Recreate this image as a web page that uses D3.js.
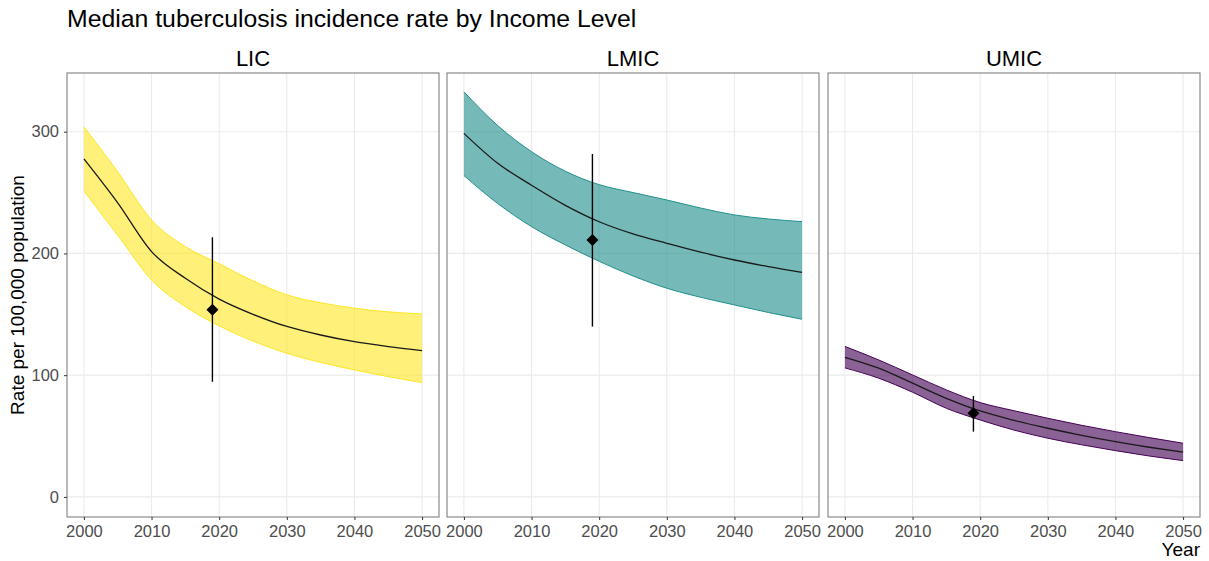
<!DOCTYPE html>
<html>
<head>
<meta charset="utf-8">
<script src="https://cdn.jsdelivr.net/npm/d3@7"></script>
<style>
  body { margin: 0; background: white; }
  text { font-family: "Liberation Sans", Arial, sans-serif; }
</style>
</head>
<body>
<div id="chart"></div>
<script>
// data
const years = [2000, 2005, 2010, 2015, 2020, 2025, 2030, 2035, 2040, 2045, 2050]
const groups = ["LIC", "LMIC", "UMIC"]
const colors = ["#FDE725", "#21908C", "#440154"]

const licMedian = [277.6, 241.5, 201.5, 179.6, 162.5, 150, 140, 133, 127.5, 123.5, 120.2]
const licUpper  = [304, 267, 227.5, 205.6, 191.5, 177.5, 166, 159.5, 155, 152, 150.3]
const licLower  = [251.3, 215, 178.2, 156.3, 140.5, 128, 118, 110.5, 104.3, 98.8, 93.9]

const lmicMedian = [298.6, 274, 256, 239.5, 226, 216, 208.3, 201, 194.6, 189.2, 184.5]
const lmicUpper  = [332.8, 305, 283.6, 267.5, 256.5, 250, 243.9, 237.3, 231.6, 228.3, 226.1]
const lmicLower  = [264, 241, 222, 207, 193.5, 181.5, 171.4, 164, 157.7, 151.5, 145.9]

const umicMedian = [114.7, 105.7, 93.4, 81, 70.6, 62.9, 56.4, 50.6, 45.4, 40.8, 36.7]
const umicUpper  = [123.6, 112.5, 100.2, 87.9, 77.5, 70.8, 64.6, 58.8, 53.6, 48.7, 44.1]
const umicLower  = [106, 97.5, 86, 72.8, 63.2, 54.9, 48.2, 42.8, 38, 33.6, 29.8]

// observed point (2019) with range
const obsYear = 2019
const obsValue = [153.8, 211, 68.7]
const obsLow = [94.6, 139.9, 53.6]
const obsHigh = [213.3, 281.7, 82.9]

const xTicks = [2000, 2010, 2020, 2030, 2040, 2050]
const yTicks = [0, 100, 200, 300]

const series = [
  { median: licMedian, upper: licUpper, lower: licLower },
  { median: lmicMedian, upper: lmicUpper, lower: lmicLower },
  { median: umicMedian, upper: umicUpper, lower: umicLower }
]

const W = 1209, H = 561
const panelLeft = [67, 447, 828]
const panelW = 372
const panelTop = 73, panelH = 444

const svg = d3.select("#chart").append("svg")
  .attr("width", W).attr("height", H)

const x = d3.scaleLinear().domain([1997.5, 2052.5]).range([0, panelW])
const y = d3.scaleLinear().domain([-16.5, 348.2]).range([panelH, 0])

// title
svg.append("text")
  .attr("x", 67).attr("y", 27)
  .style("font-size", "24.8px")
  .text("Median tuberculosis incidence rate by Income Level")

// axis titles
svg.append("text")
  .attr("transform", `translate(24, ${panelTop + panelH / 2}) rotate(-90)`)
  .attr("text-anchor", "middle")
  .style("font-size", "19px")
  .text("Rate per 100,000 population")

svg.append("text")
  .attr("x", 1200).attr("y", 556)
  .attr("text-anchor", "end")
  .style("font-size", "19px")
  .text("Year")

const area = d3.area()
  .x((d, i) => x(years[i]))
  .y0(d => y(d[0]))
  .y1(d => y(d[1]))
  .curve(d3.curveMonotoneX)

const line = d3.line()
  .x((d, i) => x(years[i]))
  .y(d => y(d))
  .curve(d3.curveMonotoneX)

groups.forEach((g, k) => {
  const p = svg.append("g").attr("transform", `translate(${panelLeft[k]}, ${panelTop})`)

  // grid
  p.selectAll(".gx").data(xTicks).enter().append("line")
    .attr("x1", d => x(d)).attr("x2", d => x(d))
    .attr("y1", 0).attr("y2", panelH)
    .attr("stroke", "#ebebeb").attr("stroke-width", 1.1)
  p.selectAll(".gy").data(yTicks).enter().append("line")
    .attr("x1", 0).attr("x2", panelW)
    .attr("y1", d => y(d)).attr("y2", d => y(d))
    .attr("stroke", "#ebebeb").attr("stroke-width", 1.1)

  const s = series[k]
  const band = s.lower.map((v, i) => [v, s.upper[i]])

  p.append("path").datum(band)
    .attr("d", area)
    .attr("fill", colors[k]).attr("fill-opacity", 0.62)
  p.append("path").datum(s.upper)
    .attr("d", line).attr("fill", "none")
    .attr("stroke", colors[k]).attr("stroke-width", 1)
  p.append("path").datum(s.lower)
    .attr("d", line).attr("fill", "none")
    .attr("stroke", colors[k]).attr("stroke-width", 1)

  p.append("path").datum(s.median)
    .attr("d", line).attr("fill", "none")
    .attr("stroke", "#1a1a1a").attr("stroke-width", 1.3)

  // observed point + range
  p.append("line")
    .attr("x1", x(obsYear)).attr("x2", x(obsYear))
    .attr("y1", y(obsLow[k])).attr("y2", y(obsHigh[k]))
    .attr("stroke", "black").attr("stroke-width", 1.4)
  p.append("path")
    .attr("d", d3.symbol(d3.symbolSquare, 72)())
    .attr("transform", `translate(${x(obsYear)}, ${y(obsValue[k])}) rotate(45)`)
    .attr("fill", "black")

  // border
  p.append("rect")
    .attr("width", panelW).attr("height", panelH)
    .attr("fill", "none").attr("stroke", "#8a8a8a").attr("stroke-width", 1.2)

  // strip label
  svg.append("text")
    .attr("x", panelLeft[k] + panelW / 2).attr("y", 66)
    .attr("text-anchor", "middle")
    .style("font-size", "22px")
    .text(g)

  // x axis
  const xa = p.append("g")
    .attr("transform", `translate(0, ${panelH})`)
    .call(d3.axisBottom(x).tickValues(xTicks).tickFormat(d3.format("d")).tickSize(3).tickPadding(5))
  xa.select(".domain").remove()
  xa.selectAll("line").attr("stroke", "#333")
  xa.selectAll("text").style("font-size", "16.5px").attr("fill", "#4d4d4d")
    .style("font-family", "'Liberation Sans', Arial, sans-serif")

  if (k === 0) {
    const ya = p.append("g")
      .call(d3.axisLeft(y).tickValues(yTicks).tickSize(3).tickPadding(5))
    ya.select(".domain").remove()
    ya.selectAll("line").attr("stroke", "#333")
    ya.selectAll("text").style("font-size", "16.5px").attr("fill", "#4d4d4d")
      .style("font-family", "'Liberation Sans', Arial, sans-serif")
  }
})
</script>
</body>
</html>
